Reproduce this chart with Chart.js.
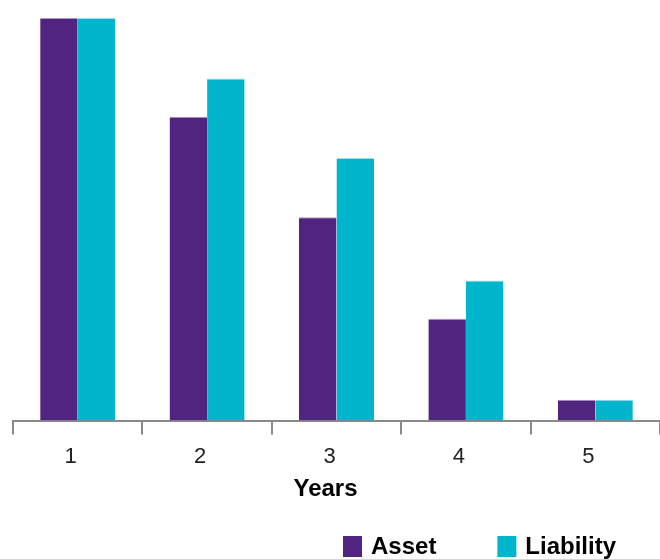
<!DOCTYPE html>
<html>
<head>
<meta charset="utf-8">
<script src="https://cdn.jsdelivr.net/npm/chart.js@4"></script>
<style>
  html, body { margin: 0; padding: 0; background: #fff; overflow: hidden; }
  #wrap { width: 660px; height: 559px; position: relative; }
</style>
</head>
<body>
<div id="wrap"><canvas id="mycanvas"></canvas></div>
<script>
// data
let years = ['1', '2', '3', '4', '5'];
let asset = [100, 75.5, 50.5, 25.3, 5.2];
let liability = [100, 85, 65.2, 34.8, 5.2];
let axisTitle = 'Years';

const purple = '#51247f';
const teal = '#00b5cc';
const axisGrey = '#8a8a8a';
const fontFamily = '"Liberation Sans", Arial, sans-serif';

// axis title + legend drawn under the axis, placed like the original
const bottomLegend = {
    id: 'bottomLegend',
    afterDraw: function(chart) {
        let ctx = chart.ctx;
        ctx.save();
        ctx.font = 'bold 24px ' + fontFamily;
        ctx.textBaseline = 'middle';
        ctx.fillStyle = '#000';
        ctx.textAlign = 'center';
        ctx.fillText(axisTitle, 325.5, 489.5);

        ctx.textAlign = 'left';
        let x = 343;
        let y = 536;
        chart.data.datasets.forEach(function(ds) {
            ctx.fillStyle = ds.backgroundColor;
            ctx.fillRect(x, y, 19, 21);
            ctx.fillStyle = '#000';
            ctx.fillText(ds.label, x + 28, y + 11);
            x += 28 + ctx.measureText(ds.label).width + 61;
        });
        ctx.restore();
    }
};

var chartdata = {
    labels: years,
    datasets: [
        {
            label: 'Asset',
            backgroundColor: purple,
            borderColor: 'rgba(160,140,190,0.9)',
            borderWidth: {top: 1, left: 0, right: 0, bottom: 0},
            data: asset
        }, {
            label: 'Liability',
            backgroundColor: teal,
            borderColor: 'rgba(150,220,230,0.9)',
            borderWidth: {top: 1, left: 0, right: 0, bottom: 0},
            data: liability
        }
    ]
};

let ctx = document.getElementById('mycanvas');

var BarGraph = new Chart(ctx, {
    type: 'bar',
    data: chartdata,
    plugins: [bottomLegend],
    options: {
        responsive: true,
        maintainAspectRatio: false,
        animation: false,
        datasets: {
            bar: {
                categoryPercentage: 0.58,
                barPercentage: 1.0
            }
        },
        layout: {
            padding: {left: 13, right: 0, top: 18, bottom: 79}
        },
        plugins: {
            legend: {display: false},
            tooltip: {enabled: false}
        },
        scales: {
            x: {
                offset: true,
                grid: {
                    display: true,
                    offset: true,
                    drawOnChartArea: false,
                    drawTicks: true,
                    tickLength: 14,
                    color: axisGrey,
                    lineWidth: 2
                },
                border: {display: true, color: axisGrey, width: 2},
                ticks: {
                    padding: 9.5,
                    labelOffset: -7,
                    color: '#222',
                    font: {family: fontFamily, size: 22}
                }
            },
            y: {
                display: false,
                min: 0,
                max: 100
            }
        }
    }
});
</script>
</body>
</html>
